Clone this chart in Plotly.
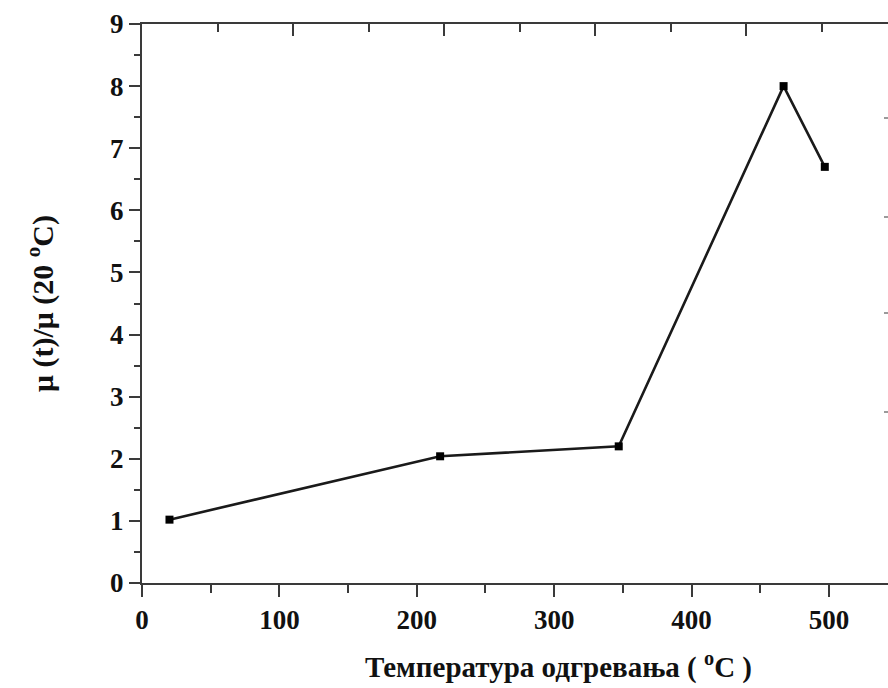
import plotly.graph_objects as go

# Annealing temperature (°C) and relative permeability μ(t)/μ(20 °C)
temperature = [20, 217, 347, 467, 497]
mu_ratio = [1.02, 2.04, 2.20, 8.00, 6.70]

x_ticks = [0, 100, 200, 300, 400, 500]
y_ticks = [0, 1, 2, 3, 4, 5, 6, 7, 8, 9]
right_ticks = [2.75, 4.35, 5.89, 7.49]

FONT = "Liberation Serif"
AX = "#3a3a3a"

fig = go.Figure()
fig.add_trace(go.Scatter(
    x=temperature, y=mu_ratio, mode="lines+markers",
    line=dict(color="#1a1a1a", width=2.6),
    marker=dict(symbol="square", size=8, color="#000000"),
    showlegend=False, cliponaxis=False,
))

tick_font = dict(family=FONT, size=27, color="#111111", weight="bold")

fig.update_layout(
    width=888, height=688,
    margin=dict(l=142, r=0, t=24, b=105),
    paper_bgcolor="white", plot_bgcolor="white",
    xaxis=dict(
        range=[0, 543], tickvals=x_ticks, showgrid=False, zeroline=False,
        showline=True, linecolor=AX, linewidth=2,
        ticks="outside", ticklen=12, tickwidth=2, tickcolor=AX,
        minor=dict(dtick=50, ticks="outside", ticklen=8, tickwidth=2, tickcolor=AX),
        tickfont=tick_font,
    ),
    xaxis2=dict(
        overlaying="x", side="top", range=[0, 494], dtick=100,
        showgrid=False, zeroline=False, showticklabels=False,
        showline=True, linecolor=AX, linewidth=2,
        ticks="inside", ticklen=12, tickwidth=2, tickcolor=AX,
        minor=dict(dtick=50, ticks="inside", ticklen=8, tickwidth=2, tickcolor=AX),
    ),
    yaxis=dict(
        range=[0, 9], tickvals=y_ticks, showgrid=False, zeroline=False,
        showline=True, linecolor=AX, linewidth=2,
        ticks="outside", ticklen=11, tickwidth=2, tickcolor=AX,
        minor=dict(dtick=0.5, ticks="outside", ticklen=6, tickwidth=2, tickcolor=AX),
        tickfont=tick_font,
    ),
    yaxis2=dict(
        overlaying="y", side="right", range=[0, 9], tickvals=right_ticks,
        showgrid=False, zeroline=False, showline=False, showticklabels=False,
        ticks="inside", ticklen=4, tickwidth=1.5, tickcolor="#9a9a9a",
    ),
    annotations=[
        dict(text="Температура одгревања ( <sup>o</sup>C )",
             xref="paper", yref="paper", x=0.558, y=-0.147,
             xanchor="center", yanchor="middle", showarrow=False,
             font=dict(family=FONT, size=29, color="#111111", weight="bold")),
        dict(text="μ (t)/μ (20 <sup>o</sup>C)",
             xref="paper", yref="paper", x=-0.136, y=0.50,
             xanchor="center", yanchor="middle", showarrow=False, textangle=-90,
             font=dict(family=FONT, size=30, color="#111111", weight="bold")),
    ],
)

# empty trace so the secondary axes are drawn
fig.add_trace(go.Scatter(x=[None], y=[None], xaxis="x2", yaxis="y2",
                         showlegend=False, hoverinfo="skip"))

fig.write_html("out.html")
